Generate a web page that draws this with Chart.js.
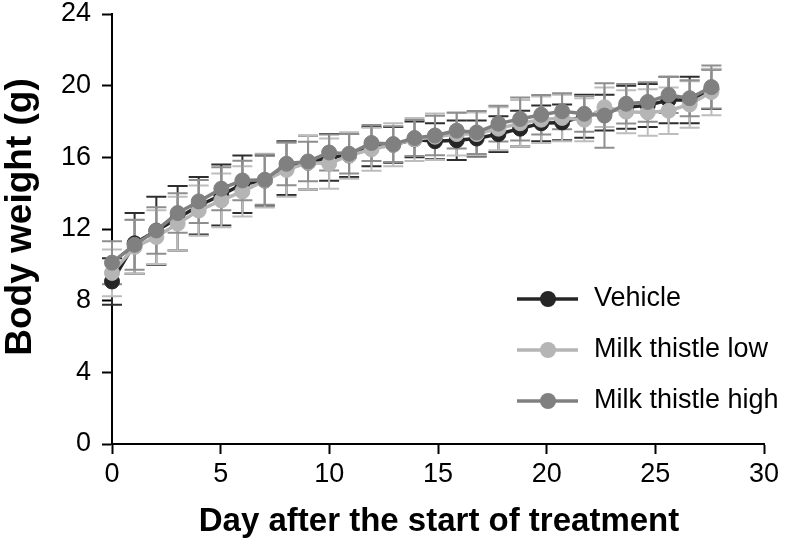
<!DOCTYPE html>
<html>
<head>
<meta charset="utf-8">
<script src="https://cdn.jsdelivr.net/npm/chart.js@4.4.1/dist/chart.umd.min.js"></script>
<style>
html,body{margin:0;padding:0;background:#fff;}
#wrap{width:786px;height:550px;position:relative;}
</style>
</head>
<body>
<div id="wrap"><canvas id="c"></canvas></div>
<script>
// ---- data ----
const days = [0, 1.04, 2.04, 3.02, 3.99, 5.03, 6.0, 7.03, 8.03, 9.02, 9.99, 10.91, 11.94, 12.94, 13.92, 14.86, 15.86, 16.78, 17.78, 18.78, 19.75, 20.71, 21.73, 22.66, 23.66, 24.65, 25.61, 26.58, 27.58];

const vehicle    = [9.07, 11.2, 11.9, 12.6, 13.3, 13.9, 14.5, 14.7, 15.4, 15.7, 16.0, 16.1, 16.6, 16.7, 17.0, 16.9, 16.95, 17.05, 17.3, 17.6, 17.9, 17.95, 18.3, 18.5, 18.8, 18.9, 19.2, 19.2, 19.8];
const vehicleErr = [1.3, 1.7, 1.9, 1.8, 1.6, 1.7, 1.6, 1.4, 1.5, 1.5, 1.3, 1.2, 1.1, 1.0, 1.0, 1.0, 1.1, 1.0, 1.0, 1.0, 1.0, 1.0, 1.2, 1.0, 1.2, 1.2, 1.3, 1.3, 1.1];

const low    = [9.55, 11.0, 11.55, 12.3, 13.03, 13.6, 14.1, 14.7, 15.3, 15.7, 15.65, 16.1, 16.45, 16.7, 17.0, 17.15, 17.3, 17.3, 17.6, 17.9, 18.1, 18.2, 18.1, 18.8, 18.55, 18.5, 18.6, 18.95, 19.65];
const lowErr = [1.3, 1.5, 1.5, 1.5, 1.4, 1.5, 1.4, 1.5, 1.5, 1.5, 1.4, 1.3, 1.2, 1.2, 1.2, 1.3, 1.2, 1.2, 1.2, 1.3, 1.3, 1.3, 1.2, 1.1, 1.2, 1.3, 1.3, 1.3, 1.3];

const high    = [10.12, 11.12, 11.92, 12.89, 13.54, 14.25, 14.71, 14.75, 15.64, 15.77, 16.27, 16.2, 16.8, 16.74, 17.08, 17.22, 17.49, 17.39, 17.88, 18.14, 18.38, 18.57, 18.43, 18.33, 18.99, 19.09, 19.48, 19.3, 19.92];
const highErr = [1.2, 1.4, 1.3, 1.1, 1.2, 1.2, 1.1, 1.4, 1.2, 1.1, 1.0, 1.1, 1.0, 1.0, 1.0, 1.1, 1.0, 1.2, 1.0, 1.2, 1.1, 1.0, 1.0, 1.8, 1.1, 1.1, 1.0, 1.0, 1.2];

const seriesNames = ['Vehicle', 'Milk thistle low', 'Milk thistle high'];
const xTitle = 'Day after the start of treatment';
const yTitle = 'Body weight (g)';

// ---- styles ----
const colors    = ['#262626', '#b5b5b5', '#808080'];
const errColors = ['#2e2e2e', '#bdbdbd', '#8e8e8e'];

function pts(ys) { return days.map((d, i) => ({x: d, y: ys[i]})); }

function makeDs(idx, ys, errs, order) {
  return {
    label: seriesNames[idx],
    data: pts(ys),
    err: errs,
    errColor: errColors[idx],
    borderColor: colors[idx],
    backgroundColor: colors[idx],
    pointBackgroundColor: colors[idx],
    pointBorderColor: colors[idx],
    pointRadius: 7.5,
    pointBorderWidth: 1,
    borderWidth: 3.5,
    tension: 0,
    clip: false,
    order: order
  };
}

const errorBars = {
  id: 'errorBars',
  beforeDatasetsDraw(chart) {
    const ctx = chart.ctx, xs = chart.scales.x, ys = chart.scales.y;
    chart.data.datasets.forEach(ds => {
      ctx.save();
      ctx.strokeStyle = ds.errColor;
      ctx.lineWidth = 2;
      ds.data.forEach((p, i) => {
        const e = ds.err[i];
        const px = xs.getPixelForValue(p.x);
        const t = ys.getPixelForValue(p.y + e);
        const b = ys.getPixelForValue(p.y - e);
        ctx.beginPath();
        ctx.moveTo(px, t); ctx.lineTo(px, b);
        ctx.moveTo(px - 10, t); ctx.lineTo(px + 10, t);
        ctx.moveTo(px - 10, b); ctx.lineTo(px + 10, b);
        ctx.stroke();
      });
      ctx.restore();
    });
  }
};

const extras = {
  id: 'extras',
  afterDraw(chart) {
    const ctx = chart.ctx, ca = chart.chartArea;
    ctx.save();
    ctx.fillStyle = '#000';
    // y title
    ctx.save();
    ctx.translate(21, 217);
    ctx.rotate(-Math.PI / 2);
    ctx.font = 'bold 37px "Liberation Sans", Arial, sans-serif';
    ctx.textAlign = 'center';
    ctx.textBaseline = 'middle';
    ctx.fillText(yTitle, 0, 0);
    ctx.restore();
    // x title
    ctx.font = 'bold 33px "Liberation Sans", Arial, sans-serif';
    ctx.textAlign = 'center';
    ctx.textBaseline = 'middle';
    ctx.fillText(xTitle, (ca.left + ca.right) / 2 + 1, 522);
    // legend
    [0, 1, 2].forEach((k, row) => {
      const ds = chart.data.datasets[k];
      const y = 299 + row * 51;
      ctx.strokeStyle = ds.borderColor;
      ctx.lineWidth = 3.5;
      ctx.beginPath(); ctx.moveTo(517, y); ctx.lineTo(578, y); ctx.stroke();
      ctx.fillStyle = ds.borderColor;
      ctx.beginPath(); ctx.arc(548, y, 8, 0, Math.PI * 2); ctx.fill();
      ctx.fillStyle = '#000';
      ctx.font = '27px "Liberation Sans", Arial, sans-serif';
      ctx.textAlign = 'left';
      ctx.textBaseline = 'middle';
      ctx.fillText(ds.label, 594, y);
    });
    ctx.restore();
  }
};

const tickFont = {family: '"Liberation Sans", Arial, sans-serif', size: 27};

new Chart(document.getElementById('c'), {
  type: 'line',
  data: {
    datasets: [
      makeDs(0, vehicle, vehicleErr, 3),
      makeDs(1, low, lowErr, 2),
      makeDs(2, high, highErr, 1)
    ]
  },
  options: {
    responsive: true,
    maintainAspectRatio: false,
    animation: false,
    devicePixelRatio: 1,
    layout: {padding: {top: 14, right: 22, left: 0, bottom: 0}},
    plugins: {legend: {display: false}, tooltip: {enabled: false}},
    scales: {
      x: {
        type: 'linear', min: 0, max: 30,
        ticks: {stepSize: 5, color: '#000', font: tickFont, padding: 4, maxRotation: 0},
        grid: {drawOnChartArea: false, drawTicks: true, tickLength: 10, tickWidth: 2, tickColor: '#000'},
        border: {display: true, color: '#000', width: 2},
        afterFit(s) { s.height = 106; s.paddingLeft = 0; s.paddingRight = 0; }
      },
      y: {
        type: 'linear', min: 0, max: 24,
        ticks: {stepSize: 4, color: '#000', font: tickFont, padding: 11},
        grid: {drawOnChartArea: false, drawTicks: true, tickLength: 10, tickWidth: 2, tickColor: '#000'},
        border: {display: true, color: '#000', width: 2},
        afterFit(s) { s.width = 112; s.paddingTop = 0; s.paddingBottom = 0; }
      }
    }
  },
  plugins: [errorBars, extras]
});
</script>
</body>
</html>
